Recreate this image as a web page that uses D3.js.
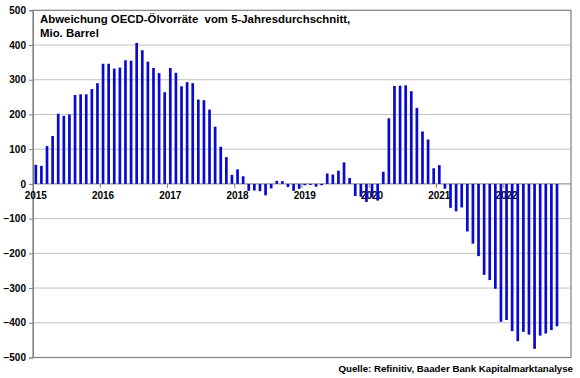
<!DOCTYPE html>
<html><head><meta charset="utf-8">
<script src="https://cdn.jsdelivr.net/npm/d3@7"></script>
<style>
html,body{margin:0;padding:0;background:#fff;}
svg{display:block;font-family:"Liberation Sans",Arial,sans-serif;}
</style></head>
<body><svg id="c" width="580" height="378"></svg>
<script>
const years = ["2015","2016","2017","2018","2019","2020","2021","2022"];
const v2015 = [55, 52, 109, 138, 202, 196, 200, 256, 258, 258, 273, 290];
const v2016 = [346, 346, 332, 335, 356, 355, 406, 385, 352, 334, 319, 264];
const v2017 = [334, 320, 281, 293, 290, 243, 241, 214, 165, 107, 77, 26];
const v2018 = [42, 22, -20, -19, -21, -33, -13, 9, 8, -9, -20, -14];
const v2019 = [-4, -3, -8, -4, 30, 27, 38, 62, 17, -35, -37, -52];
const v2020 = [-39, -48, 35, 189, 282, 283, 284, 267, 219, 151, 128, 45];
const v2021 = [54, -14, -69, -79, -68, -137, -172, -208, -262, -277, -302, -397];
const v2022 = [-392, -424, -453, -426, -434, -475, -437, -431, -421, -410];
const yTicks = [500, 400, 300, 200, 100, 0, -100, -200, -300, -400, -500];
const titleLines = ["Abweichung OECD-Ölvorräte  vom 5-Jahresdurchschnitt,", "Mio. Barrel"];
const source = "Quelle: Refinitiv, Baader Bank Kapitalmarktanalyse";

const byYear = [v2015, v2016, v2017, v2018, v2019, v2020, v2021, v2022];
const cats = [];
years.forEach(y => { for (let m = 1; m <= 12; m++) cats.push(y + "-" + String(m).padStart(2, "0")); });
const data = [];
byYear.forEach((arr, i) => arr.forEach((v, m) => data.push({cat: years[i] + "-" + String(m + 1).padStart(2, "0"), v})));

const L = 33, R = 571, T = 10.3, B = 357.5;
const svg = d3.select("#c");
const x = d3.scaleBand().domain(cats).range([L, R]).paddingInner(0.52).paddingOuter(0.26);
const y = d3.scaleLinear().domain([-500, 500]).range([B, T]);

// gridlines
svg.append("g").selectAll("line").data(yTicks.filter(t => t !== 500 && t !== -500 && t !== 0)).join("line")
  .attr("x1", L).attr("x2", R).attr("y1", d => y(d)).attr("y2", d => y(d))
  .attr("stroke", "#c0c0c0").attr("stroke-width", 1);

// frame
svg.append("rect").attr("x", L).attr("y", T).attr("width", R - L).attr("height", B - T)
  .attr("fill", "none").attr("stroke", "#808080").attr("stroke-width", 1.2);

// y axis
const yAxis = d3.axisLeft(y).tickValues(yTicks).tickSize(4).tickPadding(4).tickFormat(d3.format("d"));
const gy = svg.append("g").attr("transform", `translate(${L},0)`).call(yAxis);
gy.select(".domain").attr("stroke", "#808080");
gy.selectAll(".tick line").attr("stroke", "#808080");
gy.selectAll(".tick text").attr("font-size", 10).attr("font-weight", "bold").attr("fill", "#000")
  .attr("font-family", "Liberation Sans, Arial, sans-serif").attr("x", -7);

// x axis labels (drawn under bars)
const janCats = years.map(yv => yv + "-01");
const gx = svg.append("g");
gx.selectAll("text").data(janCats).join("text")
  .attr("x", d => x(d) + x.bandwidth() / 2).attr("y", 198.5)
  .attr("text-anchor", "middle").attr("font-size", 10).attr("font-weight", "bold")
  .text(d => d.slice(0, 4));
gx.selectAll("line").data(janCats.slice(1)).join("line")
  .attr("x1", d => x(d) - x.step() * 0.26).attr("x2", d => x(d) - x.step() * 0.26)
  .attr("y1", y(0)).attr("y2", y(0) + 4).attr("stroke", "#808080");

// zero line
svg.append("line").attr("x1", L).attr("x2", R).attr("y1", y(0)).attr("y2", y(0))
  .attr("stroke", "#808080").attr("stroke-width", 1);

// bars
svg.append("g").selectAll("rect").data(data).join("rect")
  .attr("x", d => x(d.cat)).attr("width", x.bandwidth())
  .attr("y", d => y(Math.max(0, d.v))).attr("height", d => Math.abs(y(d.v) - y(0)))
  .attr("fill", "#0a0acc");

// title
const tt = svg.append("text").attr("x", 40).attr("font-size", 11.4).attr("font-weight", "bold")
  .attr("style", "white-space:pre");
titleLines.forEach((t, i) => tt.append("tspan").attr("x", 40).attr("y", 22.5 + i * 14).text(t));

// source
svg.append("text").attr("x", 573).attr("y", 372).attr("text-anchor", "end")
  .attr("font-size", 9.7).attr("font-weight", "bold").text(source);
</script></body></html>
